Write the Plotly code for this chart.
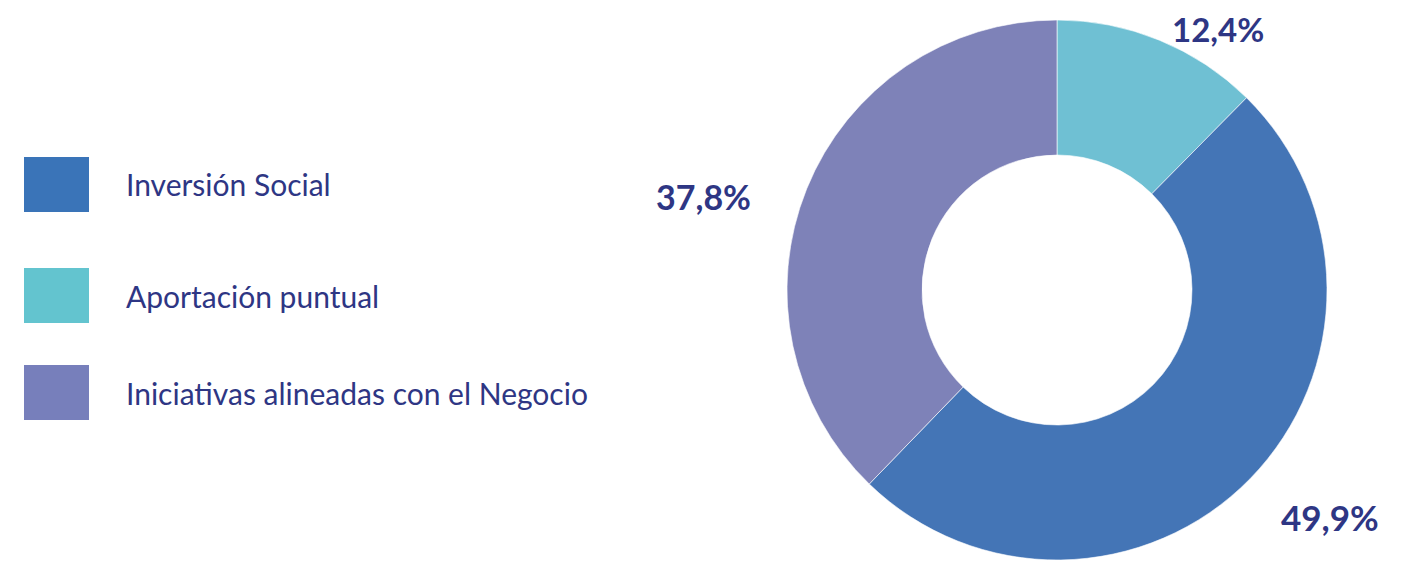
import plotly.graph_objects as go

# ---- data ----
categories = ["Aportación puntual", "Inversión Social", "Iniciativas alineadas con el Negocio"]
values = [12.4, 49.9, 37.8]
slice_colors = ["#6fc0d3", "#4475b6", "#7e82b8"]

legend_order = ["Inversión Social", "Aportación puntual", "Iniciativas alineadas con el Negocio"]
legend_colors = ["#3a74b8", "#63c4cf", "#777fbb"]

W, H = 1414, 563
OFF = 8  # default page body margin offset
TEXT_COLOR = "#2e3684"
FONT = "Lato"


def px(x):
    return (x - OFF) / W


def py(y):
    return 1 - (y - OFF) / H


fig = go.Figure()
fig.add_trace(go.Pie(
    labels=categories,
    values=values,
    sort=False,
    direction="clockwise",
    rotation=0,
    hole=0.5,
    marker=dict(colors=slice_colors, line=dict(color="white", width=0.6)),
    textinfo="none",
    hoverinfo="label+percent",
    showlegend=False,
    domain=dict(x=[px(787), px(1327)], y=[py(560), py(20)]),
))

annotations = []
shapes = []

# percentage labels: page pixel position, vertical anchor and font size
label_style = {
    "Aportación puntual": (1218, 8, "top", 33),
    "Inversión Social": (1330, 517, "middle", 35),
    "Iniciativas alineadas con el Negocio": (703, 197, "middle", 34),
}
for cat, v in zip(categories, values):
    x, y, ya, fs = label_style[cat]
    annotations.append(dict(
        x=px(x), y=py(y), xref="paper", yref="paper",
        text=f"{v:.1f}".replace(".", ",") + "%",
        showarrow=False, xanchor="center", yanchor=ya, borderpad=0,
        font=dict(family=FONT, size=fs, color=TEXT_COLOR, weight="bold"),
    ))

# custom legend
legend_rows = [(157, 212), (268, 323), (365, 420)]
for name, col, (y0, y1) in zip(legend_order, legend_colors, legend_rows):
    shapes.append(dict(
        type="rect", xref="paper", yref="paper",
        x0=px(24), x1=px(89), y0=py(y1), y1=py(y0),
        fillcolor=col, line=dict(width=0),
    ))
    annotations.append(dict(
        x=px(124), y=py((y0 + y1) / 2), xref="paper", yref="paper",
        text=name, showarrow=False, xanchor="left", yanchor="middle",
        font=dict(family=FONT, size=30, color=TEXT_COLOR),
    ))

fig.update_layout(
    width=W, height=H,
    margin=dict(l=0, r=0, t=0, b=0),
    paper_bgcolor="white",
    plot_bgcolor="white",
    annotations=annotations,
    shapes=shapes,
)

fig.write_html("out.html")
